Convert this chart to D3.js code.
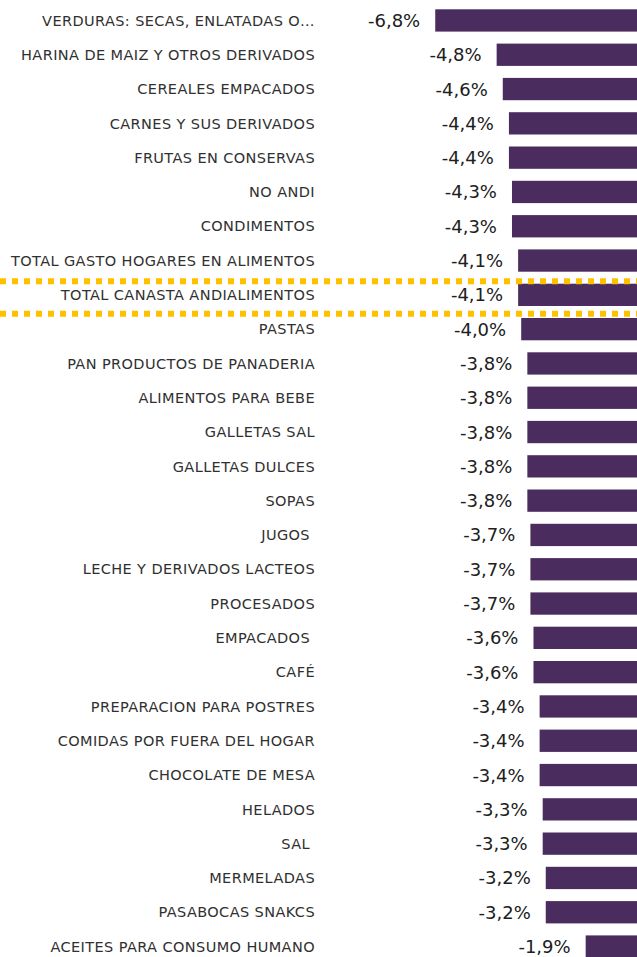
<!DOCTYPE html>
<html>
<head>
<meta charset="utf-8">
<script src="https://cdn.jsdelivr.net/npm/d3@7"></script>
<style>
  html, body { margin: 0; padding: 0; background: #ffffff; overflow: hidden; }
  svg { display: block; }
  text { white-space: pre; }
</style>
</head>
<body>
<script>
const categories = [
  "VERDURAS: SECAS, ENLATADAS O…",
  "HARINA DE MAIZ Y OTROS DERIVADOS",
  "CEREALES EMPACADOS",
  "CARNES Y SUS DERIVADOS",
  "FRUTAS EN CONSERVAS",
  "NO ANDI",
  "CONDIMENTOS",
  "TOTAL GASTO HOGARES EN ALIMENTOS",
  "TOTAL CANASTA ANDIALIMENTOS",
  "PASTAS",
  "PAN PRODUCTOS DE PANADERIA",
  "ALIMENTOS PARA BEBE",
  "GALLETAS SAL",
  "GALLETAS DULCES",
  "SOPAS",
  "JUGOS ",
  "LECHE Y DERIVADOS LACTEOS",
  "PROCESADOS",
  "EMPACADOS ",
  "CAFÉ",
  "PREPARACION PARA POSTRES",
  "COMIDAS POR FUERA DEL HOGAR",
  "CHOCOLATE DE MESA",
  "HELADOS",
  "SAL ",
  "MERMELADAS",
  "PASABOCAS SNAKCS",
  "ACEITES PARA CONSUMO HUMANO"
];
const values = [
  -6.8, -4.8, -4.6, -4.4, -4.4, -4.3, -4.3, -4.1, -4.1, -4.0,
  -3.8, -3.8, -3.8, -3.8, -3.8, -3.7, -3.7, -3.7, -3.6, -3.6,
  -3.4, -3.4, -3.4, -3.3, -3.3, -3.2, -3.2, -1.9
];
const highlighted = "TOTAL CANASTA ANDIALIMENTOS";

const W = 637, H = 957;
const data = categories.map((c, i) => ({ cat: c, val: values[i] }));

const svg = d3.select("body").append("svg")
  .attr("width", W).attr("height", H);

const x = d3.scaleLinear().domain([0, -7]).range([644, 644 - 7 * 30.7]);
const y = d3.scaleBand()
  .domain(categories)
  .range([3.3, 963.7])
  .paddingInner(0.35)
  .paddingOuter(0.175);

const fmt = v => v.toFixed(1).replace(".", ",") + "%";
const font = "'DejaVu Sans', sans-serif";

// bars
svg.append("g").selectAll("rect").data(data).join("rect")
  .attr("x", d => x(d.val))
  .attr("y", d => y(d.cat))
  .attr("width", d => x(0) - x(d.val))
  .attr("height", y.bandwidth())
  .attr("fill", "#4b2c5f");

// category labels
svg.append("g").selectAll("text").data(data).join("text")
  .attr("x", 315)
  .attr("y", d => y(d.cat) + y.bandwidth() / 2)
  .attr("dy", "0.36em")
  .attr("text-anchor", "end")
  .attr("font-family", font)
  .attr("font-weight", 400)
  .attr("font-size", 14.5)
  .attr("letter-spacing", 0.4)
  .attr("fill", "#303030")
  .text(d => d.cat);

// value labels
svg.append("g").selectAll("text").data(data).join("text")
  .attr("x", d => x(d.val) - 15)
  .attr("y", d => y(d.cat) + y.bandwidth() / 2)
  .attr("dy", "0.36em")
  .attr("text-anchor", "end")
  .attr("font-family", font)
  .attr("font-weight", 400)
  .attr("font-size", 18)
  .attr("fill", "#202020")
  .text(d => fmt(d.val));

// highlight dashed lines
const hy = y(highlighted) + y.bandwidth() / 2;
[hy - 13.5, hy + 19].forEach(ly => {
  svg.append("line")
    .attr("x1", 0).attr("x2", W)
    .attr("y1", ly).attr("y2", ly)
    .attr("stroke", "#FFC000")
    .attr("stroke-width", 6)
    .attr("stroke-dasharray", "6,6");
});
</script>
</body>
</html>
